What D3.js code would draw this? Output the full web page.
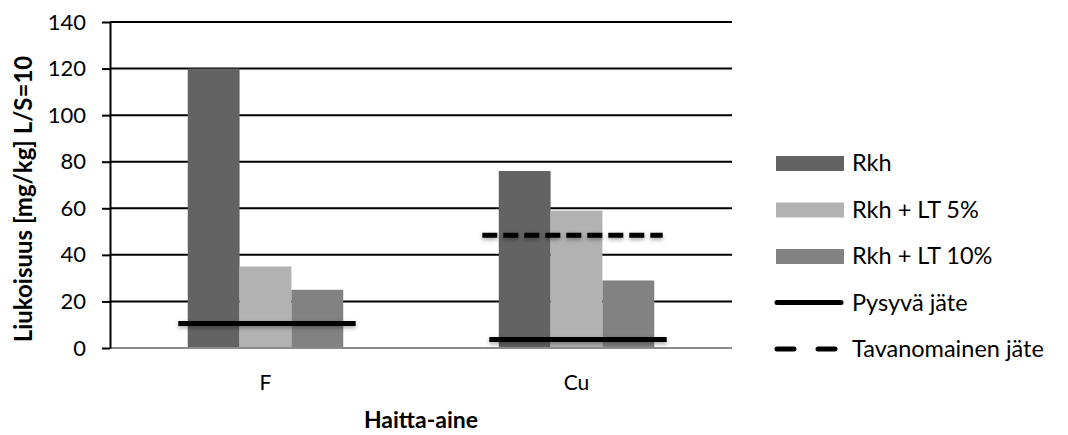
<!DOCTYPE html>
<html>
<head>
<meta charset="utf-8">
<script src="https://cdn.jsdelivr.net/npm/d3@7"></script>
<style>
  body { margin: 0; background: #fff; }
  text { font-family: Lato, "Open Sans", sans-serif; fill: #000; }
</style>
</head>
<body>
<div id="chart"></div>
<script>
// data
const categories = ['F', 'Cu'];
const seriesNames = ['Rkh', 'Rkh + LT 5%', 'Rkh + LT 10%'];
const rkh = [120, 76];
const rkhLt5 = [35, 59];
const rkhLt10 = [25, 29];
const pysyva = [10.5, 3.7];        // Pysyvä jäte limit
const tavanomainen = [null, 48.4]; // Tavanomainen jäte limit (Cu only)
const yTicks = [0, 20, 40, 60, 80, 100, 120, 140];

const barColors = ['#636363', '#b2b2b2', '#828282'];

const W = 1068, H = 435;
const margin = { top: 22, right: 336, bottom: 87, left: 110 };
const width = W - margin.left - margin.right,
  height = H - margin.top - margin.bottom;

const svg = d3.select('#chart').append('svg')
  .attr('width', W).attr('height', H);

// soft shadow under the limit lines (user space, lines have zero-height bbox)
const shadow = svg.append('defs').append('filter').attr('id', 'shadow')
  .attr('filterUnits', 'userSpaceOnUse')
  .attr('x', 0).attr('y', 0).attr('width', W).attr('height', H);
shadow.append('feDropShadow')
  .attr('dx', 0).attr('dy', 2).attr('stdDeviation', 2)
  .attr('flood-color', '#000').attr('flood-opacity', 0.35);

const g = svg.append('g')
  .attr('transform', `translate(${margin.left},${margin.top})`);

const x = d3.scaleBand().domain(categories).range([0, width]);
const y = d3.scaleLinear().domain([0, 140]).range([height, 0]);
const groupW = x.bandwidth() * 0.5;
const xs = d3.scaleBand().domain(seriesNames).range([0, groupW]);

// gridlines
g.append('g').selectAll('line')
  .data(yTicks.filter(d => d > 0))
  .join('line')
  .attr('x1', 0).attr('x2', width)
  .attr('y1', d => y(d)).attr('y2', d => y(d))
  .attr('stroke', '#000').attr('stroke-width', 2);

// bars
const table = categories.map((c, i) => ({ cat: c, vals: [rkh[i], rkhLt5[i], rkhLt10[i]] }));
g.append('g').selectAll('g')
  .data(table)
  .join('g')
  .attr('transform', d => `translate(${x(d.cat) + (x.bandwidth() - groupW) / 2},0)`)
  .selectAll('rect')
  .data(d => d.vals.map((v, j) => ({ key: seriesNames[j], v: v, j: j })))
  .join('rect')
  .attr('x', d => xs(d.key))
  .attr('width', xs.bandwidth())
  .attr('y', d => y(d.v))
  .attr('height', d => y(0) - y(d.v))
  .attr('fill', d => barColors[d.j]);

// x axis line (grey)
g.append('line')
  .attr('x1', 0).attr('x2', width)
  .attr('y1', y(0)).attr('y2', y(0))
  .attr('stroke', '#8c8c8c').attr('stroke-width', 2);

// y axis
const yAxis = g.append('g')
  .call(d3.axisLeft(y).tickValues(yTicks).tickSize(8).tickSizeOuter(0).tickPadding(16));
yAxis.select('.domain').attr('stroke', '#000').attr('stroke-width', 2);
yAxis.selectAll('.tick line').attr('stroke', '#000').attr('stroke-width', 2);
yAxis.selectAll('.tick text')
  .style('font-family', 'Lato, "Open Sans", sans-serif')
  .style('font-size', '22px').attr('fill', '#000');

// limit lines
const half = x.step() * 0.29;
const cx = c => x(c) + x.bandwidth() / 2;
g.append('g').selectAll('line')
  .data(categories.map((c, i) => ({ c: c, v: pysyva[i] })))
  .join('line')
  .attr('x1', d => cx(d.c) - half + 3).attr('x2', d => cx(d.c) + half)
  .attr('y1', d => y(d.v)).attr('y2', d => y(d.v))
  .attr('stroke', '#000').attr('stroke-width', 5)
  .attr('filter', 'url(#shadow)');

g.append('g').selectAll('line')
  .data(categories.map((c, i) => ({ c: c, v: tavanomainen[i] })).filter(d => d.v != null))
  .join('line')
  .attr('x1', d => cx(d.c) - half - 4).attr('x2', d => cx(d.c) + half - 4)
  .attr('y1', d => y(d.v)).attr('y2', d => y(d.v))
  .attr('stroke', '#000').attr('stroke-width', 5)
  .attr('stroke-dasharray', '15,6')
  .attr('filter', 'url(#shadow)');

// x category labels
g.append('g').selectAll('text')
  .data(categories)
  .join('text')
  .attr('x', d => cx(d))
  .attr('y', height + 42)
  .attr('text-anchor', 'middle')
  .style('font-size', '21px')
  .text(d => d);

// axis titles
svg.append('text')
  .attr('x', margin.left + width / 2)
  .attr('y', 428)
  .attr('text-anchor', 'middle')
  .style('font-size', '23px').style('font-weight', 'bold')
  .text('Haitta-aine');

svg.append('text')
  .attr('transform', 'translate(32,199) rotate(-90)')
  .attr('text-anchor', 'middle')
  .style('font-size', '24px').style('font-weight', 'bold')
  .text('Liukoisuus [mg/kg] L/S=10');

// legend
const legendItems = [
  { name: 'Rkh', type: 'rect', color: barColors[0] },
  { name: 'Rkh + LT 5%', type: 'rect', color: barColors[1] },
  { name: 'Rkh + LT 10%', type: 'rect', color: barColors[2] },
  { name: 'Pysyvä jäte', type: 'line' },
  { name: 'Tavanomainen jäte', type: 'dash' }
];
const legend = svg.append('g').attr('transform', 'translate(776,0)');
const li = legend.selectAll('g')
  .data(legendItems)
  .join('g')
  .attr('transform', (d, i) => `translate(0,${163 + i * 46.5})`);

li.filter(d => d.type === 'rect').append('rect')
  .attr('x', 0).attr('y', -7).attr('width', 68).attr('height', 15)
  .attr('fill', d => d.color);
li.filter(d => d.type !== 'rect').append('line')
  .attr('x1', 1).attr('x2', 65).attr('y1', 0).attr('y2', 0)
  .attr('stroke', '#000').attr('stroke-width', 5)
  .attr('stroke-linecap', 'round')
  .attr('stroke-dasharray', d => d.type === 'dash' ? '17,24' : null);
li.append('text')
  .attr('x', 76).attr('y', 0).attr('dy', '0.35em')
  .style('font-size', '23.5px')
  .text(d => d.name);
</script>
</body>
</html>
